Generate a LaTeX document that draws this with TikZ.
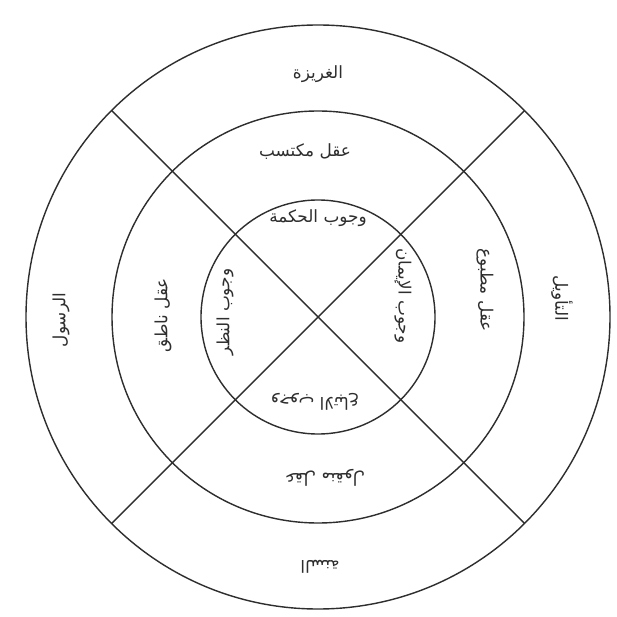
\documentclass[tikz,border=0pt]{standalone}
\usepackage{fontspec}
\newfontfamily\arabicfont[Script=Arabic]{DejaVu Sans}
\TeXXeTstate=1
\usetikzlibrary{calc}
\tikzset{px/.style={x=0.25mm,y=-0.25mm}}
\definecolor{traco}{HTML}{2E2E2E}
\definecolor{fundo}{HTML}{FFFFFF}
\tikzset{
  circulo/.style={draw=traco,line width=1pt},
  raio/.style={draw=traco,line width=1pt},
  rotulo/.style={font=\arabicfont\large,text=traco,inner sep=1pt},
}

\begin{document}
\begin{tikzpicture}[px]
  \useasboundingbox[fill=fundo] (0,0) rectangle (617,617);
  \coordinate (c) at (318,317);
  % tres aneis
  \draw[circulo] (c) circle (292);
  \draw[circulo] (c) circle (206);
  \draw[circulo] (c) circle (117);
  % diagonais
  \draw[raio] ($(c)+(135:292)$) -- ($(c)+(-45:292)$);
  \draw[raio] ($(c)+(45:292)$) -- ($(c)+(-135:292)$);
  % topo
  \node[rotulo] (t1) at (318,74) {\beginR الغريزة\endR};
  \node[rotulo] (t2) at (305,152) {\beginR عقل مكتسب\endR};
  \node[rotulo] (t3) at (318,218) {\beginR وجوب الحكمة\endR};
  % direita
  \node[rotulo,rotate=-90] (d1) at (562,298) {\beginR التأويل\endR};
  \node[rotulo,rotate=-90] (d2) at (485,290) {\beginR عقل مطبوع\endR};
  \node[rotulo,rotate=-90] (d3) at (403,296) {\beginR وجوب الإيمان\endR};
  % esquerda
  \node[rotulo,rotate=90] (e1) at (61,320) {\beginR الرسول\endR};
  \node[rotulo,rotate=90] (e2) at (163,315) {\beginR عقل ناطق\endR};
  \node[rotulo,rotate=90] (e3) at (225,312) {\beginR وجوب النظر\endR};
  % baixo
  \node[rotulo,rotate=180] (b1) at (320,567) {\beginR السنة\endR};
  \node[rotulo,rotate=180] (b2) at (325,478) {\beginR عقل منقول\endR};
  \node[rotulo,rotate=180] (b3) at (315,402) {\beginR وجوب الاتباع\endR};
\end{tikzpicture}
\end{document}
